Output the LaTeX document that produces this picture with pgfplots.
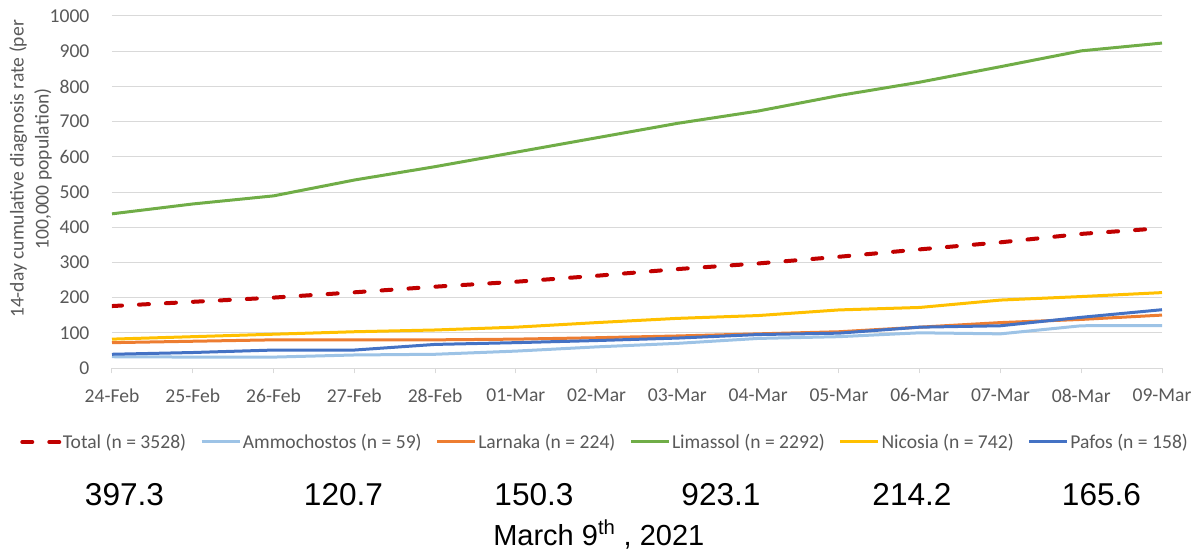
\documentclass[border=0pt]{standalone}
\usepackage{pgfplots}
\pgfplotsset{compat=1.18}
\usepackage{fontspec}
\setmainfont{Carlito}
\newfontfamily\arialf{Liberation Sans}
\definecolor{txtgray}{HTML}{595959}
\definecolor{gridgray}{HTML}{D9D9D9}
\definecolor{ctotal}{HTML}{C00000}
\definecolor{cammo}{HTML}{9DC3E6}
\definecolor{clarn}{HTML}{ED7D31}
\definecolor{climas}{HTML}{70AD47}
\definecolor{cnic}{HTML}{FFC000}
\definecolor{cpaf}{HTML}{4472C4}
\pgfplotsset{
  stdleg/.style={legend image code/.code={\draw[##1] (0pt,0pt) -- (28.5pt,0pt);}},
  totalleg/.style={legend image code/.code={\draw[##1] (1.5pt,0pt) -- (29.25pt,0pt);}},
}
\begin{document}
\begin{tikzpicture}
\path[use as bounding box] (-84pt,-139.5pt) rectangle (817.5pt,276pt);
\begin{axis}[
  at={(0pt,0pt)}, anchor=south west,
  scale only axis, width=787.5pt, height=264pt,
  xmin=0, xmax=13, ymin=0, ymax=1000,
  xtick={0,...,13},
  xticklabels={24-Feb,25-Feb,26-Feb,27-Feb,28-Feb,01-Mar,02-Mar,03-Mar,04-Mar,05-Mar,06-Mar,07-Mar,08-Mar,09-Mar},
  ytick={0,100,...,1000},
  /pgf/number format/assume math mode=true,
  /pgf/number format/1000 sep={},
  axis x line*=bottom, axis y line*=left,
  x axis line style={draw=gridgray, line width=0.75pt},
  y axis line style={draw=none},
  ymajorgrids, grid style={draw=gridgray, line width=0.75pt},
  tick align=outside,
  xtick style={draw=gridgray, line width=0.75pt},
  major tick length=4pt,
  ytick style={draw=none},
  tick label style={font=\fontsize{14.7}{17}\selectfont, text=txtgray},
  xticklabel style={yshift=-8pt},
  yticklabel style={xshift=-9.4pt},
  ylabel={14-day cumulative diagnosis rate (per\\100,000 population)},
  ylabel style={at={(rel axis cs:-0.0776,0.5653)}, anchor=center, align=center,
     font=\fontsize{14.7}{18.75}\selectfont, text=txtgray},
  legend columns=6,
  legend style={at={(rel axis cs:-0.0876,-0.2102)}, anchor=west, draw=none, fill=none,
     inner sep=0pt, font=\fontsize{14.7}{17}\selectfont, text=txtgray,
     nodes={inner sep=1.2pt},
     /tikz/every even column/.append style={column sep=9.3pt}},
  stdleg,
]
\addplot[ctotal, line width=3pt, line cap=round, dash pattern=on 7.5pt off 12.75pt, totalleg]
 coordinates {(0,176) (1,188) (2,200) (3,215) (4,231) (5,245) (6,262) (7,281) (8,297) (9,316) (10,337) (11,357) (12,381) (13,397.3)};
\addlegendentry{Total (n = 3528)}
\addplot[cammo, line width=2.25pt]
 coordinates {(0,32) (1,31) (2,31) (3,37) (4,39) (5,48) (6,60) (7,70) (8,84) (9,89) (10,100) (11,97) (12,120) (13,120.7)};
\addlegendentry{Ammochostos (n = 59)}
\addplot[clarn, line width=2.25pt]
 coordinates {(0,72) (1,76) (2,80) (3,80) (4,80) (5,82) (6,86) (7,91) (8,97) (9,103) (10,116) (11,129) (12,138) (13,150.3)};
\addlegendentry{Larnaka (n = 224)}
\addplot[climas, line width=2.25pt]
 coordinates {(0,438) (1,466) (2,489) (3,534) (4,572) (5,613) (6,654) (7,695) (8,730) (9,774) (10,812) (11,856) (12,901) (13,923.1)};
\addlegendentry{Limassol (n = 2292)}
\addplot[cnic, line width=2.25pt]
 coordinates {(0,82) (1,89) (2,96) (3,103) (4,108) (5,116) (6,129) (7,141) (8,149) (9,165) (10,172) (11,193) (12,203) (13,214.2)};
\addlegendentry{Nicosia (n = 742)}
\addplot[cpaf, line width=2.25pt]
 coordinates {(0,39) (1,44) (2,51) (3,51) (4,67) (5,72) (6,78) (7,85) (8,95) (9,99) (10,116) (11,120) (12,144) (13,165.6)};
\addlegendentry{Pafos (n = 158)}
\end{axis}
\begin{scope}[every node/.style={font=\arialf\fontsize{23.7}{28}\selectfont, anchor=center, inner sep=0pt}]
\node at (9.4pt,-94.9pt) {397.3};
\node at (173.6pt,-94.9pt) {120.7};
\node at (316.5pt,-94.9pt) {150.3};
\node at (456.75pt,-94.9pt) {923.1};
\node at (600pt,-94.9pt) {214.2};
\node at (742.1pt,-94.9pt) {165.6};
\end{scope}
\node[font=\arialf\fontsize{21.75}{26}\selectfont, anchor=base west, inner sep=0pt] at (285.75pt,-132.75pt) {March 9\textsuperscript{th} , 2021};
\end{tikzpicture}
\end{document}
